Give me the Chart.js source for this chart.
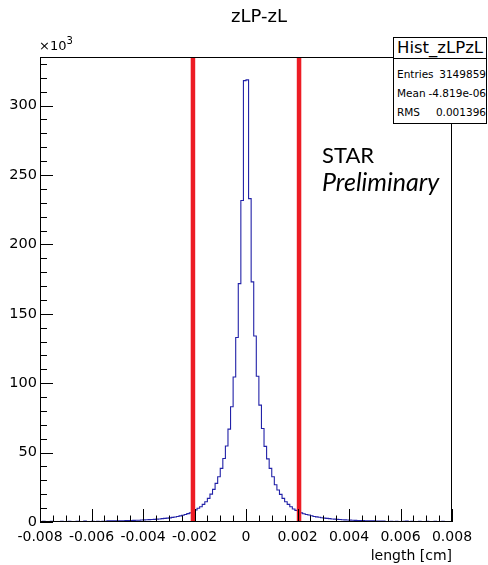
<!DOCTYPE html>
<html>
<head>
<meta charset="utf-8">
<script src="https://cdn.jsdelivr.net/npm/chart.js@4.4.1/dist/chart.umd.min.js"></script>
<style>
html,body{margin:0;padding:0;background:#fff;}
#wrap{position:relative;width:488px;height:565px;overflow:hidden;background:#fff;}
#c{position:absolute;left:0;top:0;}
.t{position:absolute;white-space:nowrap;color:#000;font-family:"DejaVu Sans",sans-serif;}
#stats{position:absolute;left:393px;top:37px;width:94px;height:87px;background:#fff;border:1px solid #000;box-sizing:border-box;}
#stats .hd{position:absolute;left:0;top:0;width:100%;height:20px;border-bottom:1px solid #000;text-align:center;font-size:16.5px;line-height:20px;}
#stats .row{position:absolute;left:3px;right:0;font-size:10.5px;line-height:12px;}
#stats .row .k{position:absolute;left:0;top:0;}
#stats .row .v{position:absolute;right:0;top:0;}
</style>
</head>
<body>
<div id="wrap">
<canvas id="c" width="488" height="565"></canvas>
<div class="t" style="left:209px;top:6px;width:100px;text-align:center;font-size:18px;line-height:20px;">zLP-zL</div>
<div class="t" style="left:39px;top:38px;font-size:13px;line-height:16px;">×10<sup style="font-size:10px;vertical-align:6px;line-height:0;">3</sup></div>
<div id="stats">
  <div class="t hd" style="position:absolute;">Hist_zLPzL</div>
  <div class="row t" style="top:30px;"><span class="k">Entries</span><span class="v">3149859</span></div>
  <div class="row t" style="top:49px;"><span class="k">Mean</span><span class="v">-4.819e-06</span></div>
  <div class="row t" style="top:68px;"><span class="k">RMS</span><span class="v">0.001396</span></div>
</div>
<div class="t" style="left:322px;top:142px;font-family:Lato,sans-serif;font-size:22px;line-height:26px;">STAR</div>
<div class="t" style="left:322px;top:167px;font-family:Lato,sans-serif;font-style:italic;font-size:25px;line-height:28px;">Preliminary</div>
<div class="t" style="left:342px;top:547px;width:110px;text-align:right;font-size:14px;line-height:16px;">length [cm]</div>
</div>
<script>
// ---- data (counts in units of 10^3) ----
const binLow = -0.008;
const binHigh = 0.008;
// bins from x = -0.008 up to 0 (bin width 0.0001)
const leftCounts = [
  0.35, 0.45, 0.3, 0.4, 0.5, 0.3, 0.4, 0.35, 0.45, 0.3,
  0.4, 0.5, 0.35, 0.3, 0.45, 0.4, 0.35, 0.7, 0.4, 0.3,
  0.45, 0.35, 0.5, 0.3, 0.45, 0.5,
  0.8, 0.85, 0.85, 0.9, 0.9, 0.95, 0.95, 1.0, 1.05, 1.1,
  1.2, 1.25, 1.3, 1.4, 1.5, 1.6, 1.7, 1.8, 1.9, 2.05,
  2.2, 2.4, 2.6, 2.8, 3.0, 3.3, 3.6, 4.0, 4.4, 4.9,
  5.4, 6.0, 6.6,
  7.4, 8.6, 9.9, 11.0, 12.7, 14.6, 17.0, 20.1, 23.5, 27.8,
  32.6, 38.6, 45.8, 54.7, 66.9, 83.0, 104.5, 132.9, 171.7, 231.6,
  318.0
];
// bins from x = 0 up to 0.008
const rightCounts = [
  318.5, 233.0, 173.0, 134.0, 105.0, 84.2, 67.4, 54.5, 45.5, 38.6,
  32.6, 26.8, 23.0, 19.9, 17.0, 14.6, 12.7, 11.0, 9.4, 8.4,
  7.3,
  6.6, 5.9, 5.4, 5.0, 4.5, 4.0, 3.7, 3.4, 3.1, 2.8,
  2.6, 2.4, 2.2, 2.05, 1.9, 1.75, 1.65, 1.55, 1.45, 1.35,
  1.25, 1.2, 1.1, 1.05, 1.0, 0.95, 0.9, 0.85, 0.8, 0.75,
  0.7, 0.7, 0.65,
  0.4, 0.35, 0.5, 0.3, 0.45, 0.35, 0.4, 0.5, 0.7, 0.35,
  0.45, 0.3, 0.4, 0.5, 0.35, 0.3, 0.45, 0.4, 0.35, 0.5,
  0.3, 0.4, 0.45, 0.35, 0.3, 0.4
];
const cutPositions = [-0.00206, 0.00206];
const xTickValues = [-0.008, -0.006, -0.004, -0.002, 0, 0.002, 0.004, 0.006, 0.008];
const yTickValues = [0, 50, 100, 150, 200, 250, 300];
const yMax = 335;
const xMinorStep = 0.0005;
const yMinorStep = 10;

// ---- build step outline for the histogram ----
const counts = leftCounts.concat(rightCounts);
const binW = (binHigh - binLow) / counts.length;
const histPoints = [];
counts.forEach((c, i) => {
  const lo = binLow + i * binW, hi = binLow + (i + 1) * binW;
  histPoints.push({x: lo, y: c});
  histPoints.push({x: hi, y: c});
});

const cutSets = cutPositions.map(v => ({
  data: [{x: v, y: 0}, {x: v, y: yMax}],
  borderColor: '#ed1c24',
  borderWidth: 4.5,
  pointRadius: 0,
  tension: 0,
  fill: false
}));

const frameTicks = {
  id: 'frameTicks',
  afterDatasetsDraw(chart) {
    const {ctx, chartArea: a, scales: {x, y}} = chart;
    ctx.save();
    ctx.strokeStyle = '#000';
    ctx.lineWidth = 1;
    ctx.beginPath();
    const nx = Math.round((x.max - x.min) / xMinorStep);
    for (let i = 0; i <= nx; i++) {
      const v = x.min + i * xMinorStep;
      const px = Math.round(x.getPixelForValue(v)) + 0.5;
      const major = xTickValues.some(t => Math.abs(t - v) < 1e-9);
      const len = major ? 13 : 6.5;
      ctx.moveTo(px, a.bottom);
      ctx.lineTo(px, a.bottom - len);
    }
    for (let v = 0; v <= yMax; v += yMinorStep) {
      const py = Math.round(y.getPixelForValue(v)) + 0.5;
      const major = yTickValues.includes(v);
      const len = major ? 13 : 7;
      ctx.moveTo(a.left, py);
      ctx.lineTo(a.left + len, py);
    }
    ctx.stroke();
    ctx.strokeRect(Math.round(a.left) + 0.5, Math.round(a.top) + 0.5,
                   Math.round(a.right - a.left) - 1, Math.round(a.bottom - a.top) - 1);
    ctx.restore();
  }
};

Chart.defaults.font.family = '"DejaVu Sans", sans-serif';
Chart.defaults.color = '#000';

new Chart(document.getElementById('c'), {
  type: 'line',
  data: {
    datasets: [
      ...cutSets,
      {
        data: histPoints,
        borderColor: '#2222a8',
        borderWidth: 1.1,
        pointRadius: 0,
        tension: 0,
        fill: false
      }
    ]
  },
  options: {
    responsive: false,
    animation: false,
    layout: {padding: {top: 57, right: 36, left: 0, bottom: 0}},
    plugins: {legend: {display: false}, tooltip: {enabled: false}, title: {display: false}},
    scales: {
      x: {
        type: 'linear',
        min: binLow, max: binHigh,
        grid: {display: false, drawTicks: false},
        border: {display: false},
        afterBuildTicks: s => { s.ticks = xTickValues.map(v => ({value: v})); },
        afterFit: s => { s.height = 43; },
        ticks: {
          padding: 7,
          maxRotation: 0,
          autoSkip: false,
          font: {size: 14},
          callback: v => (Math.abs(v) < 1e-12 ? '0' : v.toFixed(3))
        }
      },
      y: {
        type: 'linear',
        min: 0, max: yMax,
        grid: {display: false, drawTicks: false},
        border: {display: false},
        afterBuildTicks: s => { s.ticks = yTickValues.map(v => ({value: v})); },
        afterFit: s => { s.width = 40; },
        ticks: {
          padding: 3,
          autoSkip: false,
          font: {size: 14.5},
          callback: v => String(v)
        }
      }
    }
  },
  plugins: [frameTicks]
});
</script>
</body>
</html>
